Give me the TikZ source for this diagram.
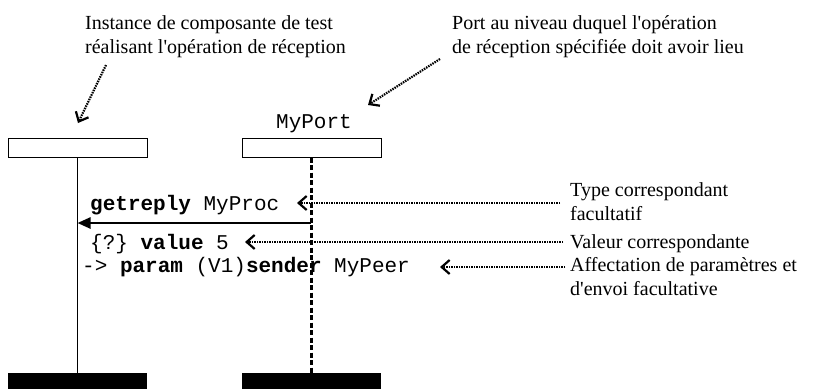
\documentclass[tikz,border=0pt]{standalone}
\usepackage{fontspec}
\setmainfont{Liberation Serif}
\setmonofont{Liberation Mono}
\usetikzlibrary{arrows.meta, positioning}

\begin{document}
\begin{tikzpicture}[x=1pt, y=-1pt,
  txt/.style={inner sep=0pt, font=\fontsize{20}{24}\selectfont, align=left},
  code/.style={inner sep=0pt, font=\fontsize{21}{24}\selectfont\ttfamily},
  lifebox/.style={draw, line width=1pt, minimum width=139pt, minimum height=19pt, inner sep=0pt},
  endbox/.style={fill=black, minimum width=139pt, minimum height=16pt, inner sep=0pt},
  note/.style={line width=2.2pt, dash pattern=on 1.5pt off 1pt,
    -{Straight Barb[length=8pt,width=14pt,line width=2.2pt]}},
  msg/.style={line width=2.4pt, -{Triangle[length=13pt,width=11pt]}}]
\useasboundingbox (0,0) rectangle (814,389);
% instances
\node[lifebox] (instbox) at (77.5,147.5) {};
\node[lifebox] (portbox) at (311.5,147.5) {};
\node[code, anchor=base] (portname) at (314,128) {MyPort};
\node[endbox] (instend) at (77.5,381) {};
\node[endbox] (portend) at (311.5,381) {};
\draw[line width=1pt] (instbox.south) -- (instend.north);
\draw[line width=2.2pt, dash pattern=on 5pt off 2.5pt] (portbox.south) -- (portend.north);
% receive operation
\node[code, anchor=base west] (getrep) at (90,210) {\textbf{getreply} MyProc};
\node[code, anchor=base west] (valline) at (90,249) {\{?\} \textbf{value} 5};
\node[code, anchor=base west] (parline) at (82,272) {-> \textbf{param} (V1)\textbf{sender} MyPeer};
\coordinate (rep) at (311,223);
\draw[msg] (rep) -- (rep -| instbox.south);
% annotations (base = last line)
\node[txt, anchor=base west] (inst) at (85,53) {Instance de composante de test\\r\'ealisant l\textquotesingle op\'eration de r\'eception};
\node[txt, anchor=base west] (port) at (452,53) {Port au niveau duquel l\textquotesingle op\'eration\\de r\'eception sp\'ecifi\'ee doit avoir lieu};
\node[txt, anchor=base west] (typelbl) at (570,220) {Type correspondant\\facultatif};
\node[txt, anchor=base west] (vallbl) at (570,248) {Valeur correspondante};
\node[txt, anchor=base west] (afflbl) at (570,295) {Affectation de param\`etres et\\d\textquotesingle envoi facultative};
\coordinate (instfrom) at (106,65);
\coordinate (instto) at (78,123);
\coordinate (portfrom) at (440,59);
\coordinate (portto) at (368,105);
\coordinate (typeto) at (297,203);
\coordinate (valto) at (245,242);
\coordinate (affto) at (440,267);
\draw[note] (instfrom) -- (instto);
\draw[note] (portfrom) -- (portto);
\draw[note] (typeto -| 560,0) -- (typeto);
\draw[note] (valto -| 563,0) -- (valto);
\draw[note] (affto -| 565,0) -- (affto);
\end{tikzpicture}
\end{document}
